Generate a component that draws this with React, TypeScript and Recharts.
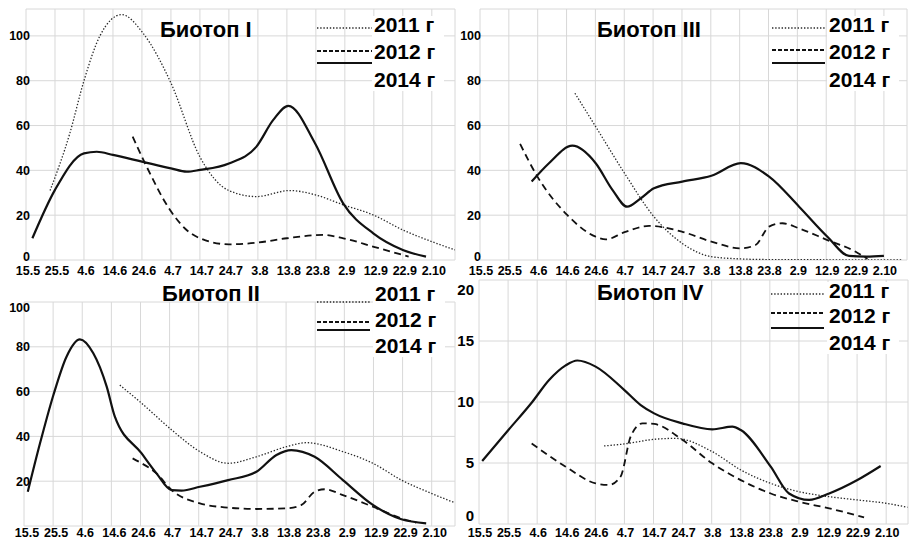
import React from 'react';
import { LineChart, Line, XAxis, YAxis, CartesianGrid } from 'recharts';

const categories = ['15.5', '25.5', '4.6', '14.6', '24.6', '4.7', '14.7', '24.7', '3.8', '13.8', '23.8', '2.9', '12.9', '22.9', '2.10'];
const xTicks = categories.map((_, i) => i);
const seriesNames = ['2011 г', '2012 г', '2014 г'];
const titles = ['Биотоп I', 'Биотоп III', 'Биотоп II', 'Биотоп IV'];

// [position along the category axis, value]
const bio1_2011 = [[0.83, 31], [1.5, 56], [2.0, 80], [2.55, 100], [3.3, 109.5], [4.05, 101], [5.0, 79], [6.0, 46], [7.0, 31], [7.95, 28.3], [9.1, 31], [10.0, 29], [10.95, 24.6], [12.0, 20], [13.0, 13.4], [14.0, 8.2], [14.8, 4.5]];
const bio1_2012 = [[3.68, 55], [4.16, 41.7], [4.97, 22.3], [5.54, 13.4], [6.0, 9.7], [7.0, 7], [7.95, 7.7], [9.0, 9.7], [10.25, 11.2], [10.95, 9.7], [12.0, 5.9], [13.2, 1.5]];
const bio1_2014 = [[0.22, 9.7], [1.0, 31.3], [2.0, 47.6], [2.44, 48.3], [3.0, 46.9], [4.0, 43.9], [5.0, 40.9], [5.54, 39.4], [6.0, 40.2], [7.0, 43.1], [7.95, 50.6], [8.53, 62.5], [9.05, 68.8], [9.97, 52.1], [10.94, 25.3], [11.98, 11.9], [13.0, 4.5], [13.8, 1.5]];

const bio3_2011 = [[3.29, 74.4], [4.01, 59.5], [5.01, 38.7], [6.03, 19.3], [7.01, 7.4], [8.02, 1.5], [9.0, 0.5], [10.0, 0.2], [12.0, 0.1], [14.6, 0.1]];
const bio3_2012 = [[1.39, 51.8], [1.99, 37.2], [3.03, 20], [4.01, 10.4], [4.36, 9.2], [5.01, 12.4], [5.86, 15.2], [7.01, 12.6], [8.02, 8.2], [9.04, 5.2], [9.55, 6.7], [10.02, 14.9], [10.48, 16.4], [11.06, 14.1], [12.04, 8.9], [13.02, 3.7], [13.43, 0.5]];
const bio3_2014 = [[1.79, 35], [2.39, 43.2], [3.2, 51], [4.01, 43.2], [4.59, 31.3], [5.1, 23.8], [5.57, 27.5], [6.03, 32], [7.01, 35], [8.02, 37.6], [9.04, 43.2], [10.02, 37.2], [11.06, 23.8], [12.04, 10.4], [12.79, 1.8], [13.4, 1.5], [14.0, 1.8]];

const bio2_2011 = [[3.29, 62.9], [4.04, 54.8], [5.07, 42.9], [6.04, 33.2], [7.01, 28], [7.98, 30.9], [9.01, 35.4], [9.7, 37.2], [10.95, 33.2], [11.98, 28], [12.96, 20.5], [13.98, 14.6], [14.79, 10.4]];
const bio2_2012 = [[3.73, 30.2], [4.04, 28], [4.55, 23.5], [5.07, 16], [6.04, 10.1], [7.01, 8.2], [7.98, 7.6], [9.01, 7.9], [9.53, 9.4], [9.98, 15.3], [10.33, 16.4], [10.95, 13.8], [11.98, 8.6], [12.96, 3.4], [13.47, 1.5]];
const bio2_2014 = [[0.13, 15.3], [0.55, 36.9], [1.01, 58.5], [1.46, 75.6], [1.92, 83.3], [2.38, 77.1], [2.84, 62.2], [3.12, 48.8], [4.04, 32.4], [4.55, 23.5], [5.07, 16], [5.41, 15.8], [6.04, 17.5], [7.01, 20.5], [7.98, 24.2], [8.67, 31.7], [9.18, 33.9], [9.98, 30.9], [10.95, 20.5], [11.98, 9.4], [12.96, 3], [13.81, 1.2]];

const bio4_2011 = [[4.3, 6.4], [4.99, 6.56], [6.02, 6.94], [6.76, 7.02], [8.02, 5.93], [9.0, 4.43], [10.03, 3.33], [11.0, 2.65], [12.04, 2.24], [13.01, 1.97], [13.99, 1.7], [14.73, 1.37]];
const bio4_2012 = [[1.81, 6.6], [2.98, 4.7], [4.01, 3.33], [4.47, 3.2], [4.87, 3.9], [5.22, 7.2], [5.62, 8.25], [6.02, 8.2], [6.99, 6.9], [8.02, 4.97], [9.0, 3.6], [10.03, 2.5], [11.0, 1.83], [12.04, 1.28], [13.24, 0.55]];
const bio4_2014 = [[0.11, 5.16], [1.01, 7.7], [1.83, 10.0], [2.41, 11.8], [2.98, 13.0], [3.38, 13.4], [4.01, 12.9], [4.99, 11.0], [5.56, 9.75], [6.02, 9.07], [6.99, 8.25], [8.02, 7.76], [8.71, 7.98], [9.0, 7.7], [10.03, 4.7], [10.66, 2.5], [11.35, 1.97], [12.04, 2.5], [13.01, 3.6], [13.81, 4.75]];

const yTicks100 = [0, 20, 40, 60, 80, 100];
const yTicks20 = [0, 5, 10, 15, 20];

const toPts = (a: number[][]) => a.map(([x, v]) => ({ x, v }));

const FONT = '"Liberation Sans", Arial, Helvetica, sans-serif';

const lineStyles = [
  { stroke: '#2a2a2a', strokeWidth: 1.3, strokeDasharray: '1.4 1.8' },
  { stroke: '#111', strokeWidth: 1.8, strokeDasharray: '7 4.5' },
  { stroke: '#111', strokeWidth: 2.2, strokeDasharray: undefined as string | undefined },
];

const panels = [
  {
    title: titles[0], series: [bio1_2011, bio1_2012, bio1_2014],
    left: 0, top: 0, width: 460, height: 280,
    margin: { top: 9, right: 5, bottom: 0, left: 0 }, yAxisWidth: 26, xAxisHeight: 20,
    xMax: 14.8, yDomain: [0, 112], yTicks: [...yTicks100, 112], yLabels: yTicks100,
    yFont: 12.5, yDx: 4, yDyTop: 0, yDyZero: -4, xDx: 2, xDy: 15,
    titleX: 160, titleY: 37,
    legend: { x1: 317, x2: 372, tx: 374, rows: [[28, 24], [51, 51], [63, 79]] },
  },
  {
    title: titles[1], series: [bio3_2011, bio3_2012, bio3_2014],
    left: 452, top: 0, width: 457, height: 280,
    margin: { top: 9, right: 2, bottom: 0, left: 0 }, yAxisWidth: 28, xAxisHeight: 20,
    xMax: 14.8, yDomain: [0, 112], yTicks: [...yTicks100, 112], yLabels: yTicks100,
    yFont: 12.5, yDx: 1, yDyTop: 0, yDyZero: -4, xDx: 1, xDy: 15,
    titleX: 597, titleY: 37,
    legend: { x1: 772, x2: 825, tx: 829, rows: [[28, 24], [50, 51], [63, 79]] },
  },
  {
    title: titles[2], series: [bio2_2011, bio2_2012, bio2_2014],
    left: 0, top: 270, width: 460, height: 271,
    margin: { top: 32, right: 5, bottom: 0, left: 0 }, yAxisWidth: 24, xAxisHeight: 15,
    xMax: 14.8, yDomain: [0, 100], yTicks: yTicks100, yLabels: [20, 40, 60, 80, 100],
    yFont: 12.5, yDx: 6, yDyTop: 5, yDyZero: 0, xDx: 3, xDy: 11,
    titleX: 162, titleY: 301,
    legend: { x1: 317, x2: 370, tx: 375, rows: [[302, 293], [322, 319], [330, 345]] },
  },
  {
    title: titles[3], series: [bio4_2011, bio4_2012, bio4_2014],
    left: 449, top: 270, width: 460, height: 271,
    margin: { top: 10, right: 1, bottom: 0, left: 0 }, yAxisWidth: 30, xAxisHeight: 17,
    xMax: 14.75, yDomain: [0, 20], yTicks: yTicks20, yLabels: yTicks20,
    yFont: 15, yDx: -5, yDyTop: 10, yDyZero: -8, xDx: 1, xDy: 13,
    titleX: 597, titleY: 300,
    legend: { x1: 771, x2: 824, tx: 829, rows: [[294, 290], [313, 315], [328, 342]] },
  },
];

type Cfg = typeof panels[number];

function Panel({ cfg }: { cfg: Cfg }) {
  const maxY = cfg.yDomain[1];
  const renderX = (p: any) => (
    <text x={p.x + cfg.xDx} y={p.y + cfg.xDy} textAnchor="middle" fontSize={12.5} fontWeight={700} fontFamily={FONT} fill="#000">
      {categories[p.payload.value]}
    </text>
  );
  const renderY = (p: any) => {
    const v = p.payload.value;
    if (!cfg.yLabels.includes(v)) return <g />;
    const dy = v === 0 ? cfg.yDyZero : v === cfg.yLabels[cfg.yLabels.length - 1] && v >= maxY - 12 ? cfg.yDyTop : 0;
    return (
      <text x={p.x + cfg.yDx} y={p.y + dy + cfg.yFont * 0.36} textAnchor="end" fontSize={cfg.yFont} fontWeight={700} fontFamily={FONT} fill="#000">
        {v}
      </text>
    );
  };
  return (
    <div style={{ position: 'absolute', left: cfg.left, top: cfg.top }}>
      <LineChart width={cfg.width} height={cfg.height} margin={cfg.margin}>
        <CartesianGrid stroke="#d8d8d8" strokeWidth={1} />
        <XAxis
          type="number" dataKey="x" domain={[0, cfg.xMax]} ticks={xTicks} interval={0}
          allowDataOverflow axisLine={false} tickLine={false} tickSize={0} tickMargin={0}
          height={cfg.xAxisHeight} tick={renderX}
        />
        <YAxis
          type="number" domain={cfg.yDomain} ticks={cfg.yTicks} interval={0}
          allowDataOverflow axisLine={false} tickLine={false} tickSize={0} tickMargin={0}
          width={cfg.yAxisWidth} tick={renderY}
        />
        {cfg.series.map((s, i) => (
          <Line
            key={seriesNames[i]}
            name={seriesNames[i]}
            data={toPts(s)}
            dataKey="v"
            type="monotone"
            stroke={lineStyles[i].stroke}
            strokeWidth={lineStyles[i].strokeWidth}
            strokeDasharray={lineStyles[i].strokeDasharray}
            dot={false}
            activeDot={false}
            isAnimationActive={false}
          />
        ))}
      </LineChart>
    </div>
  );
}

function Overlay() {
  return (
    <svg width={909} height={541} style={{ position: 'absolute', left: 0, top: 0, pointerEvents: 'none' }}>
      {panels.map((cfg) => (
        <g key={cfg.title}>
          <text x={cfg.titleX} y={cfg.titleY} fontSize={22} fontWeight={700} fontFamily={FONT} fill="#000">
            {cfg.title}
          </text>
          <rect x={cfg.legend.tx - 2} y={cfg.legend.rows[0][1] - 8} width={72} height={cfg.legend.rows[2][1] - cfg.legend.rows[0][1] + 20} fill="#fff" />
          {cfg.legend.rows.map(([ly, ty], i) => (
            <g key={i}>
              <line
                x1={cfg.legend.x1} x2={cfg.legend.x2} y1={ly} y2={ly}
                stroke={lineStyles[i].stroke}
                strokeWidth={lineStyles[i].strokeWidth}
                strokeDasharray={i === 1 ? '4 2' : lineStyles[i].strokeDasharray}
              />
              <text x={cfg.legend.tx} y={ty + 7.5} fontSize={21} fontWeight={700} fontFamily={FONT} fill="#000">
                {seriesNames[i]}
              </text>
            </g>
          ))}
        </g>
      ))}
    </svg>
  );
}

export default function App() {
  return (
    <div style={{ position: 'absolute', left: 0, top: 0, width: 909, height: 541, background: '#fff', overflow: 'hidden' }}>
      {panels.map((cfg) => (
        <Panel key={cfg.title} cfg={cfg} />
      ))}
      <Overlay />
    </div>
  );
}
